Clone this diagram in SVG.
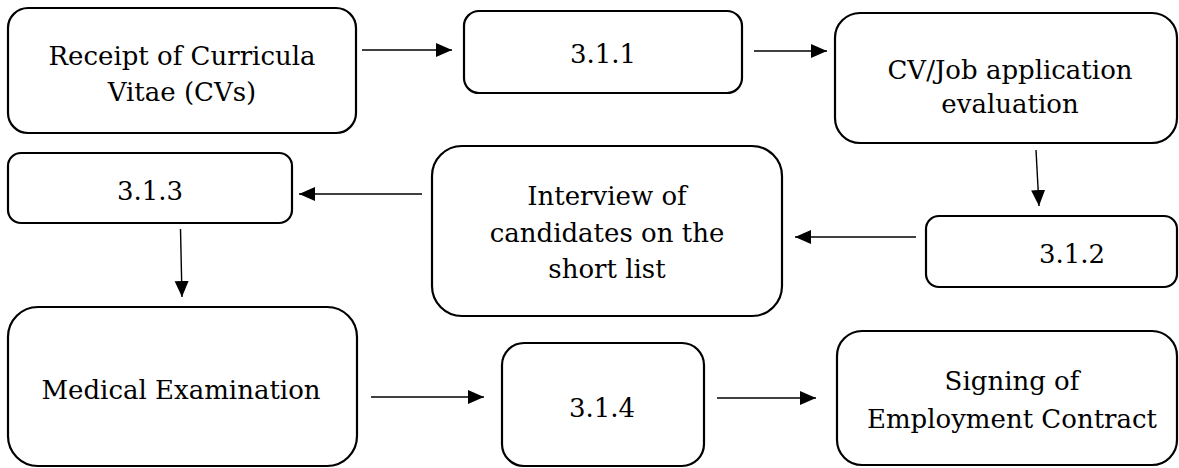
<svg xmlns="http://www.w3.org/2000/svg" width="1179" height="468" viewBox="0 0 1179 468">
<style>
.box{fill:#fff;stroke:#000;stroke-width:2.2}
.lbl{font-family:'DejaVu Serif',serif;font-size:26px;fill:#000;text-anchor:middle}
.conn{stroke:#000;stroke-width:1.4;fill:none;marker-end:url(#ah)}
</style>
<defs>
<marker id="ah" markerUnits="userSpaceOnUse" markerWidth="17" markerHeight="15" refX="16" refY="7" orient="auto">
<path d="M0,0 L16,7 L0,14 z" fill="#000"/>
</marker>
</defs>
<rect width="1179" height="468" fill="#fff"/>
<g id="connectors">
<line class="conn" x1="362" y1="50" x2="452" y2="50"/>
<line class="conn" x1="754" y1="51" x2="827" y2="51"/>
<line class="conn" x1="1036" y1="150" x2="1039" y2="206"/>
<line class="conn" x1="916" y1="237" x2="795" y2="237"/>
<line class="conn" x1="422" y1="194" x2="299" y2="194"/>
<line class="conn" x1="180.5" y1="229" x2="182" y2="297"/>
<line class="conn" x1="371" y1="397" x2="484" y2="397"/>
<line class="conn" x1="717" y1="398" x2="816" y2="398"/>
</g>
<g id="receipt">
<rect class="box" x="8" y="8" width="348" height="125" rx="20"/>
<text class="lbl" x="182" y="65">Receipt of Curricula</text>
<text class="lbl" x="182" y="101">Vitae (CVs)</text>
</g>
<g id="n311">
<rect class="box" x="464" y="11" width="278" height="82" rx="15"/>
<text class="lbl" x="603" y="63">3.1.1</text>
</g>
<g id="cv-eval">
<rect class="box" x="835" y="13" width="342" height="130" rx="25"/>
<text class="lbl" x="1010" y="79">CV/Job application</text>
<text class="lbl" x="1010" y="113">evaluation</text>
</g>
<g id="n313">
<rect class="box" x="8" y="153" width="284" height="70" rx="13"/>
<text class="lbl" x="150" y="200">3.1.3</text>
</g>
<g id="interview">
<rect class="box" x="432" y="146" width="350" height="170" rx="30"/>
<text class="lbl" x="607" y="205">Interview of</text>
<text class="lbl" x="607" y="242">candidates on the</text>
<text class="lbl" x="607" y="278">short list</text>
</g>
<g id="n312">
<rect class="box" x="926" y="216" width="251" height="71" rx="13"/>
<text class="lbl" x="1072" y="263">3.1.2</text>
</g>
<g id="medical">
<rect class="box" x="8" y="307" width="349" height="159" rx="30"/>
<text class="lbl" x="181" y="399">Medical Examination</text>
</g>
<g id="n314">
<rect class="box" x="502" y="343" width="202" height="123" rx="22"/>
<text class="lbl" x="602" y="417">3.1.4</text>
</g>
<g id="signing">
<rect class="box" x="837" y="331" width="340" height="134" rx="25"/>
<text class="lbl" x="1012" y="390">Signing of</text>
<text class="lbl" x="1012" y="428">Employment Contract</text>
</g>
</svg>
